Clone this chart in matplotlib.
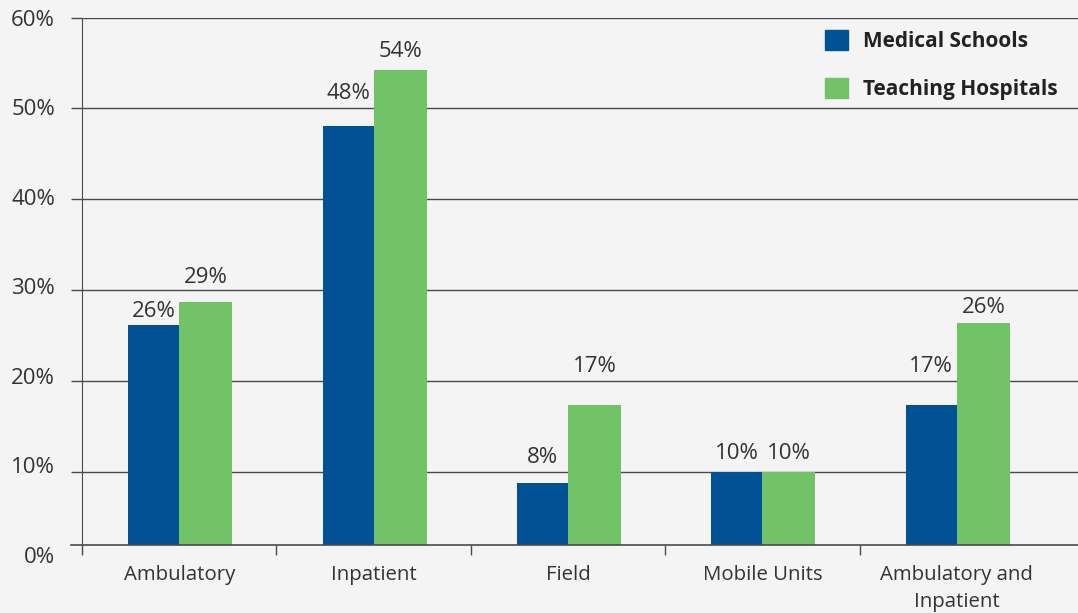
import matplotlib
matplotlib.use("Agg")
import matplotlib.pyplot as plt
import matplotlib.transforms as mtransforms
from matplotlib.patches import Patch
import numpy as np

categories = ["Ambulatory", "Inpatient", "Field", "Mobile Units", "Ambulatory and\nInpatient"]
medical_schools = [26.2, 48.1, 8.8, 10.0, 17.4]
teaching_hospitals = [28.7, 54.2, 17.4, 10.0, 26.4]
medical_labels = ["26%", "48%", "8%", "10%", "17%"]
teaching_labels = ["29%", "54%", "17%", "10%", "26%"]
y_ticks = [0, 10, 20, 30, 40, 50, 60]

# label gaps above the bars (pixels), as placed in the original
gap_blue = [8, 27, 20, 13, 33]
gap_green = [19, 13, 33, 13, 10]

BLUE = "#005295"
GREEN = "#72C268"
BG = "#F4F4F4"
TXT = "#333333"
LINE = "#4a4a4a"
BASE = 2.0  # axis baseline sits a little above 0 in the original

plt.rcParams["font.family"] = ["Open Sans", "DejaVu Sans"]

W, H = 1078, 613
fig = plt.figure(figsize=(W / 100, H / 100), dpi=100, facecolor=BG)
left, right, top, bottom = 82, 1078, 17.5, 563
ax = fig.add_axes([left / W, 1 - bottom / H, (right - left) / W, (bottom - top) / H])
ax.set_facecolor(BG)

x = np.arange(len(categories))
bw_b, bw_g = 0.262, 0.273
xb = x - bw_b / 2
xg = x + bw_g / 2
ax.bar(xb, np.array(medical_schools) - BASE, bw_b, bottom=BASE, color=BLUE, zorder=3)
ax.bar(xg, np.array(teaching_hospitals) - BASE, bw_g, bottom=BASE, color=GREEN, zorder=3)

for i in range(len(categories)):
    ax.annotate(medical_labels[i], (xb[i], medical_schools[i]), xytext=(0, gap_blue[i]),
                textcoords="offset pixels", ha="center", va="baseline", fontsize=16, color=TXT)
    ax.annotate(teaching_labels[i], (xg[i], teaching_hospitals[i]), xytext=(0, gap_green[i]),
                textcoords="offset pixels", ha="center", va="baseline", fontsize=16, color=TXT)

# category names under the baseline
for i, name in enumerate(categories):
    ax.annotate(name, (x[i], BASE), xytext=(0, -20), textcoords="offset pixels",
                ha="center", va="top", fontsize=14.7, color=TXT, linespacing=1.46,
                annotation_clip=False)

ax.set_xlim(-0.5, 4.5 + 24 / 194.4)
ax.set_ylim(0, 60)

# horizontal grid
for v in y_ticks[1:]:
    ax.axhline(v, color=LINE, lw=1, zorder=1)
ax.axhline(BASE, xmin=-11 / (right - left), xmax=1, color=LINE, lw=1.2, zorder=4, clip_on=False)

ax.set_yticks(y_ticks)
ax.set_yticklabels([f"{v}%" for v in y_ticks])
ax.tick_params(axis="y", length=8, width=1, color=LINE, labelsize=16, labelcolor=TXT, pad=11.5)
ax.yaxis.get_major_ticks()[0].tick1line.set_visible(False)
for v, lab in zip(y_ticks, ax.get_yticklabels()):
    dy = 8 * (60 - v) / 60 / 100
    lab.set_transform(lab.get_transform() + mtransforms.ScaledTranslation(0, dy, fig.dpi_scale_trans))

ax.set_xticks(np.arange(-0.5, 4.0, 1.0))
ax.set_xticklabels([])
ax.tick_params(axis="x", which="major", length=7, width=1, color=LINE, direction="out")

for s in ["top", "right"]:
    ax.spines[s].set_visible(False)
ax.spines["bottom"].set_visible(False)
ax.spines["bottom"].set_position(("data", BASE))
ax.spines["left"].set_bounds(BASE, 60)
ax.spines["left"].set_color(LINE)

handles = [Patch(color=BLUE, label="Medical Schools"), Patch(color=GREEN, label="Teaching Hospitals")]
leg = fig.legend(handles=handles, loc="upper left", bbox_to_anchor=(825 / W, 1 - 30 / H),
                 frameon=False, borderpad=0, borderaxespad=0, handlelength=1.1, handleheight=1.1,
                 handletextpad=0.74, labelspacing=1.22, prop={"weight": "bold", "size": 15.0})
for t in leg.get_texts():
    t.set_color("#222222")

fig.savefig("out.png", dpi=100, facecolor=BG)
